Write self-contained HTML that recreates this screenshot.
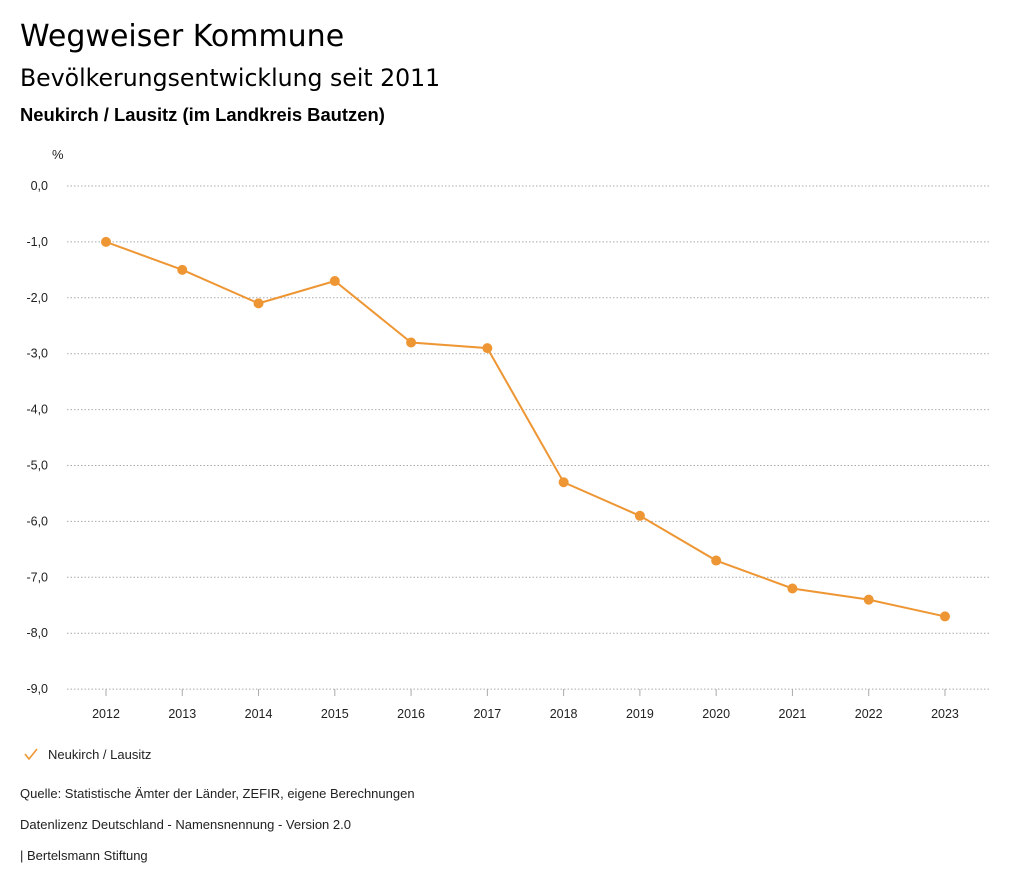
<!DOCTYPE html>
<html><head><meta charset="utf-8">
<style>
body{margin:0;width:1024px;height:888px;background:#fff;font-family:"Liberation Sans","DejaVu Sans",sans-serif;color:#000;overflow:hidden}
.t1{position:absolute;left:20px;top:19px;font-size:30px;font-family:"DejaVu Sans","Liberation Sans",sans-serif}
.t2{position:absolute;left:20px;top:64px;font-size:23.6px;font-family:"DejaVu Sans","Liberation Sans",sans-serif}
.t3{position:absolute;left:20px;top:104px;font-size:18.4px;font-weight:bold}
.f{position:absolute;left:20px;font-size:13px;color:#222}
svg{position:absolute;left:0;top:0}
</style></head><body>
<div class="t1">Wegweiser Kommune</div>
<div class="t2">Bevölkerungsentwicklung seit 2011</div>
<div class="t3">Neukirch / Lausitz (im Landkreis Bautzen)</div>
<svg id="chart" width="1024" height="888"></svg>
<div class="f" style="top:786px">Quelle: Statistische Ämter der Länder, ZEFIR, eigene Berechnungen</div>
<div class="f" style="top:817px">Datenlizenz Deutschland - Namensnennung - Version 2.0</div>
<div class="f" style="top:848px">| Bertelsmann Stiftung</div>
<script>
const years=["2012","2013","2014","2015","2016","2017","2018","2019","2020","2021","2022","2023"];
const values=[-1.0,-1.5,-2.1,-1.7,-2.8,-2.9,-5.3,-5.9,-6.7,-7.2,-7.4,-7.7];
const yTicks=[0,-1,-2,-3,-4,-5,-6,-7,-8,-9];
const seriesName="Neukirch / Lausitz";
const NS="http://www.w3.org/2000/svg";
const svg=document.getElementById('chart');
const C='#ee9633';
function y(v){return 186+(-v)*55.9;}
function x(i){return 106+i*76.27;}
function mk(tag,attrs,txt){const e=document.createElementNS(NS,tag);for(const k in attrs)e.setAttribute(k,attrs[k]);if(txt!==undefined)e.textContent=txt;svg.appendChild(e);return e;}
let u=mk('text',{x:52,y:159,'font-size':13,fill:'#222'},'%');


yTicks.forEach(t=>{
  const g=mk('line',{x1:67,x2:990,y1:y(t),y2:y(t),stroke:'#aaa','stroke-dasharray':'1.5,2','stroke-width':1});
  
  
  const l=mk('text',{x:48,y:y(t)+4,'font-size':12.5,'text-anchor':'end',fill:'#222'},t.toFixed(1).replace('.',',').replace('-0,0','0,0'));
  
  
});
years.forEach((yr,i)=>{
  const tk=mk('line',{x1:x(i),x2:x(i),y1:689,y2:696,stroke:'#aaa'});
  
  
  const l=mk('text',{x:x(i),y:718,'font-size':12.5,'text-anchor':'middle',fill:'#222'},yr);
  
  
});
const p=mk('polyline',{points:values.map((v,i)=>x(i)+','+y(v)).join(' '),fill:'none',stroke:C,'stroke-width':2});


values.forEach((v,i)=>{
  const c=mk('circle',{cx:x(i),cy:y(v),r:5,fill:C});
  
  
});
const chk=mk('polyline',{points:'25,754 29,759 37,749',fill:'none',stroke:C,'stroke-width':1.6});


const lt=mk('text',{x:48,y:759,'font-size':13,fill:'#222'},seriesName);


</script>
</body></html>
